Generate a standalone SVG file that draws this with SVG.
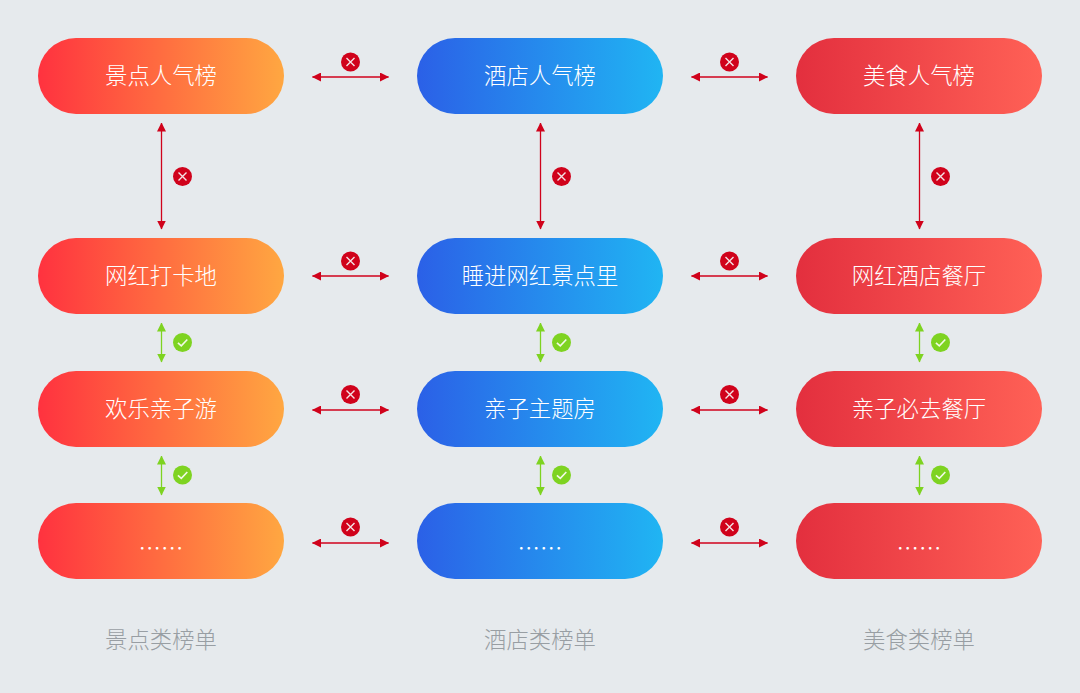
<svg xmlns="http://www.w3.org/2000/svg" width="1080" height="693" viewBox="0 0 1080 693">
<style>
text{font-family:"Noto Sans CJK SC","Noto Sans",sans-serif;text-anchor:middle;font-weight:300}
.t{font-size:22.4px;fill:#fff}
.c{font-size:22.4px;fill:#989ea3}
.no{stroke:#d0021b;stroke-width:1.3;fill:none;marker-start:url(#mr);marker-end:url(#mr)}
.ok{stroke:#7ed321;stroke-width:1.3;fill:none;marker-start:url(#mg);marker-end:url(#mg)}
.x{stroke:#f4e3e5;stroke-width:1.4;fill:none}
.v{stroke:#f2fae6;stroke-width:1.6;fill:none}
</style>
<defs>
<linearGradient id="go"><stop offset="0" stop-color="#ff323f"/><stop offset="1" stop-color="#ffa741"/></linearGradient>
<linearGradient id="gb"><stop offset="0" stop-color="#2b60e7"/><stop offset="1" stop-color="#20b5f3"/></linearGradient>
<linearGradient id="gr"><stop offset="0" stop-color="#e32f3e"/><stop offset="1" stop-color="#ff6156"/></linearGradient>
<marker id="mr" markerUnits="userSpaceOnUse" viewBox="0 0 9 9" refX="8.500" refY="4.500" markerWidth="9" markerHeight="9" orient="auto-start-reverse"><path d="M0 0L9 4.500L0 9Z" fill="#d0021b"/></marker>
<marker id="mg" markerUnits="userSpaceOnUse" viewBox="0 0 9 9" refX="8.500" refY="4.500" markerWidth="9" markerHeight="9" orient="auto-start-reverse"><path d="M0 0L9 4.500L0 9Z" fill="#7ed321"/></marker>
<g id="bx"><circle r="9.5" fill="#d0021b"/><path class="x" d="M-4-4L4 4M4-4L-4 4"/></g>
<g id="bv"><circle r="9.5" fill="#7ed321"/><path class="v" d="M-4.6 .3L-1.2 3.4L4.8-3"/></g>
</defs>
<rect width="1080" height="693" fill="#e6eaed"/>
<g id="connectors">
<path class="no" d="M312.500 77H388.500"/><path class="no" d="M691.500 77H767.500"/>
<path class="no" d="M312.500 276H388.500"/><path class="no" d="M691.500 276H767.500"/>
<path class="no" d="M312.500 410H388.500"/><path class="no" d="M691.500 410H767.500"/>
<path class="no" d="M312.500 543H388.500"/><path class="no" d="M691.500 543H767.500"/>
<path class="no" d="M161.500 123V229"/><path class="no" d="M540.500 123V229"/><path class="no" d="M919.500 123V229"/>
<path class="ok" d="M161.500 323V362"/><path class="ok" d="M540.500 323V362"/><path class="ok" d="M919.500 323V362"/>
<path class="ok" d="M161.500 456V495"/><path class="ok" d="M540.500 456V495"/><path class="ok" d="M919.500 456V495"/>
<use href="#bx" x="350.500" y="62"/><use href="#bx" x="729.500" y="62"/>
<use href="#bx" x="350.500" y="261"/><use href="#bx" x="729.500" y="261"/>
<use href="#bx" x="350.500" y="394.500"/><use href="#bx" x="729.500" y="394.500"/>
<use href="#bx" x="350.500" y="527"/><use href="#bx" x="729.500" y="527"/>
<use href="#bx" x="182.500" y="176.500"/><use href="#bx" x="561.500" y="176.500"/><use href="#bx" x="940.500" y="176.500"/>
<use href="#bv" x="182.500" y="342.500"/><use href="#bv" x="561.500" y="342.500"/><use href="#bv" x="940.500" y="342.500"/>
<use href="#bv" x="182.500" y="475"/><use href="#bv" x="561.500" y="475"/><use href="#bv" x="940.500" y="475"/>
</g>
<g id="n11"><rect x="38" y="38" width="246" height="76" rx="38" fill="url(#go)"/><text class="t" x="161" y="84">景点人气榜</text></g>
<g id="n12"><rect x="417" y="38" width="246" height="76" rx="38" fill="url(#gb)"/><text class="t" x="540" y="84">酒店人气榜</text></g>
<g id="n13"><rect x="796" y="38" width="246" height="76" rx="38" fill="url(#gr)"/><text class="t" x="919" y="84">美食人气榜</text></g>
<g id="n21"><rect x="38" y="238" width="246" height="76" rx="38" fill="url(#go)"/><text class="t" x="161" y="284">网红打卡地</text></g>
<g id="n22"><rect x="417" y="238" width="246" height="76" rx="38" fill="url(#gb)"/><text class="t" x="540" y="284">睡进网红景点里</text></g>
<g id="n23"><rect x="796" y="238" width="246" height="76" rx="38" fill="url(#gr)"/><text class="t" x="919" y="284">网红酒店餐厅</text></g>
<g id="n31"><rect x="38" y="371" width="246" height="76" rx="38" fill="url(#go)"/><text class="t" x="161" y="417">欢乐亲子游</text></g>
<g id="n32"><rect x="417" y="371" width="246" height="76" rx="38" fill="url(#gb)"/><text class="t" x="540" y="417">亲子主题房</text></g>
<g id="n33"><rect x="796" y="371" width="246" height="76" rx="38" fill="url(#gr)"/><text class="t" x="919" y="417">亲子必去餐厅</text></g>
<g id="n41"><rect x="38" y="503" width="246" height="76" rx="38" fill="url(#go)"/><text class="t" x="161" y="557">……</text></g>
<g id="n42"><rect x="417" y="503" width="246" height="76" rx="38" fill="url(#gb)"/><text class="t" x="540" y="557">……</text></g>
<g id="n43"><rect x="796" y="503" width="246" height="76" rx="38" fill="url(#gr)"/><text class="t" x="919" y="557">……</text></g>
<text class="c" x="161" y="648">景点类榜单</text>
<text class="c" x="540" y="648">酒店类榜单</text>
<text class="c" x="919" y="648">美食类榜单</text>
</svg>
